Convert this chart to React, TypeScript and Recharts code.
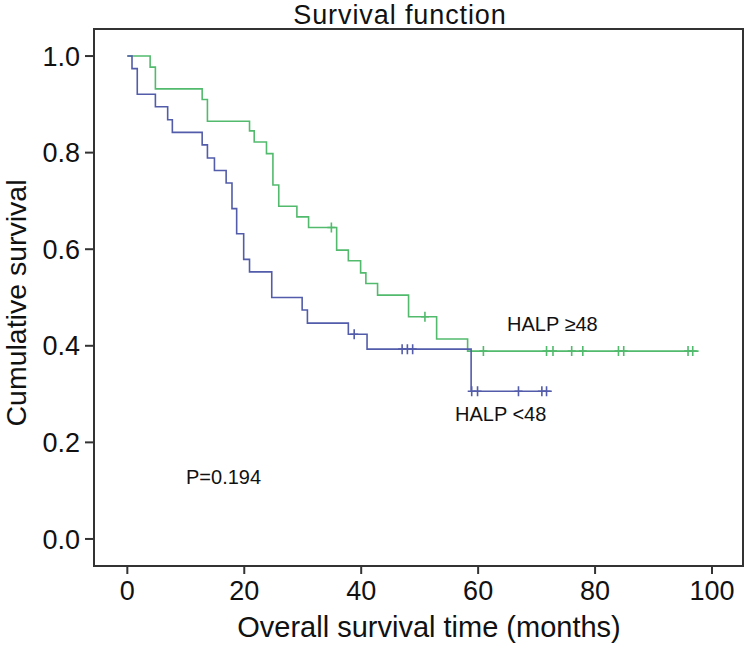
import { ComposedChart, Line, Scatter, XAxis, YAxis, ReferenceArea } from "recharts";

// HALP >= 48 (green)
const highTimes = [0, 3.9, 4.8, 12.8, 13.7, 20.9, 21.7, 23.8, 24.9, 25.9, 29.0, 31.0, 35.8, 37.8, 39.9, 40.8, 42.8, 48.1, 52.9, 58.2, 97.7];
const highSurv = [1, 0.977, 0.932, 0.91, 0.865, 0.845, 0.822, 0.798, 0.733, 0.689, 0.667, 0.645, 0.598, 0.576, 0.551, 0.529, 0.505, 0.46, 0.414, 0.389, 0.389];
const highCensor = [34.9, 50.9, 60.9, 71.7, 72.8, 76.0, 77.9, 84.0, 84.9, 95.9, 96.7];

// HALP < 48 (blue)
const lowTimes = [0, 0.8, 1.7, 4.8, 6.9, 7.7, 12.8, 13.7, 14.9, 16.9, 17.9, 18.7, 19.9, 20.9, 24.7, 29.9, 30.8, 37.8, 41.0, 58.8, 72.6];
const lowSurv = [1, 0.974, 0.921, 0.895, 0.868, 0.842, 0.816, 0.789, 0.763, 0.737, 0.684, 0.632, 0.579, 0.553, 0.5, 0.474, 0.447, 0.424, 0.393, 0.306, 0.306];
const lowCensor = [38.8, 47.0, 47.9, 48.8, 58.9, 59.9, 66.9, 70.9, 71.7];

const xTicks = [0, 20, 40, 60, 80, 100];
const yTicks = [0, 0.2, 0.4, 0.6, 0.8, 1.0];

const X_DOMAIN = [-5.7, 105.3];
const Y_DOMAIN = [-0.056, 1.056];

const GREEN = "#52ba6c";
const BLUE = "#525caa";
const FONT = "'Liberation Sans', Arial, Helvetica, sans-serif";

const toPoints = (times: number[], surv: number[]) =>
  times.map((t, i) => ({ t, s: surv[i] }));

// survival value of the step curve at a censoring time
const censorPoints = (cens: number[], times: number[], surv: number[]) =>
  cens.map((t) => {
    let s = surv[0];
    times.forEach((tt, i) => {
      if (tt <= t) s = surv[i];
    });
    return { t, s };
  });

const highLine = toPoints(highTimes, highSurv);
const lowLine = toPoints(lowTimes, lowSurv);
const highMarks = censorPoints(highCensor, highTimes, highSurv);
const lowMarks = censorPoints(lowCensor, lowTimes, lowSurv);

const plus = (color: string) => (props: any) => {
  const { cx, cy } = props;
  return (
    <path
      d={`M${cx - 4},${cy}h8M${cx},${cy - 5}v10`}
      stroke={color}
      strokeWidth={1.6}
      fill="none"
    />
  );
};

export default function App() {
  const tickStyle = { fontSize: 27, fill: "#111", fontFamily: FONT };
  return (
    <div style={{ position: "absolute", left: 0, top: 0, width: 752, height: 648, background: "#fff" }}>
      <ComposedChart
        width={752}
        height={648}
        margin={{ top: 29, right: 9, bottom: 0, left: 0 }}
      >
        <XAxis
          dataKey="t"
          type="number"
          domain={X_DOMAIN}
          ticks={xTicks}
          allowDataOverflow
          height={82}
          tick={tickStyle}
          tickSize={8}
          tickMargin={7}
          stroke="#333"
          strokeWidth={2}
        />
        <YAxis
          type="number"
          domain={Y_DOMAIN}
          ticks={yTicks}
          allowDataOverflow
          width={94}
          tick={tickStyle}
          tickSize={9}
          tickMargin={5}
          tickFormatter={(v: number) => v.toFixed(1)}
          stroke="#333"
          strokeWidth={2}
        />
        <ReferenceArea
          x1={X_DOMAIN[0]}
          x2={X_DOMAIN[1]}
          y1={Y_DOMAIN[0]}
          y2={Y_DOMAIN[1]}
          fill="none"
          stroke="#333"
          strokeWidth={2}
          ifOverflow="visible"
        />
        <Line
          data={highLine}
          dataKey="s"
          type="stepAfter"
          stroke={GREEN}
          strokeWidth={1.6}
          dot={false}
          isAnimationActive={false}
        />
        <Line
          data={lowLine}
          dataKey="s"
          type="stepAfter"
          stroke={BLUE}
          strokeWidth={1.6}
          dot={false}
          isAnimationActive={false}
        />
        <Scatter data={highMarks} dataKey="s" shape={plus(GREEN)} isAnimationActive={false} />
        <Scatter data={lowMarks} dataKey="s" shape={plus(BLUE)} isAnimationActive={false} />
      </ComposedChart>
      <svg
        width={752}
        height={648}
        style={{ position: "absolute", left: 0, top: 0, pointerEvents: "none" }}
        fontFamily={FONT}
      >
        <text x={400} y={24} textAnchor="middle" fontSize={27} letterSpacing={0.9} fill="#111">
          Survival function
        </text>
        <text
          transform="translate(26,303) rotate(-90)"
          textAnchor="middle"
          fontSize={28.5}
          fill="#111"
        >
          Cumulative survival
        </text>
        <text x={429} y={637} textAnchor="middle" fontSize={29} fill="#111">
          Overall survival time (months)
        </text>
        <text x={186} y={484} fontSize={20} fill="#111">P=0.194</text>
        <text x={507} y={331} fontSize={20} fill="#111">HALP ≥48</text>
        <text x={455} y={421} fontSize={20} fill="#111">HALP &lt;48</text>
      </svg>
    </div>
  );
}
